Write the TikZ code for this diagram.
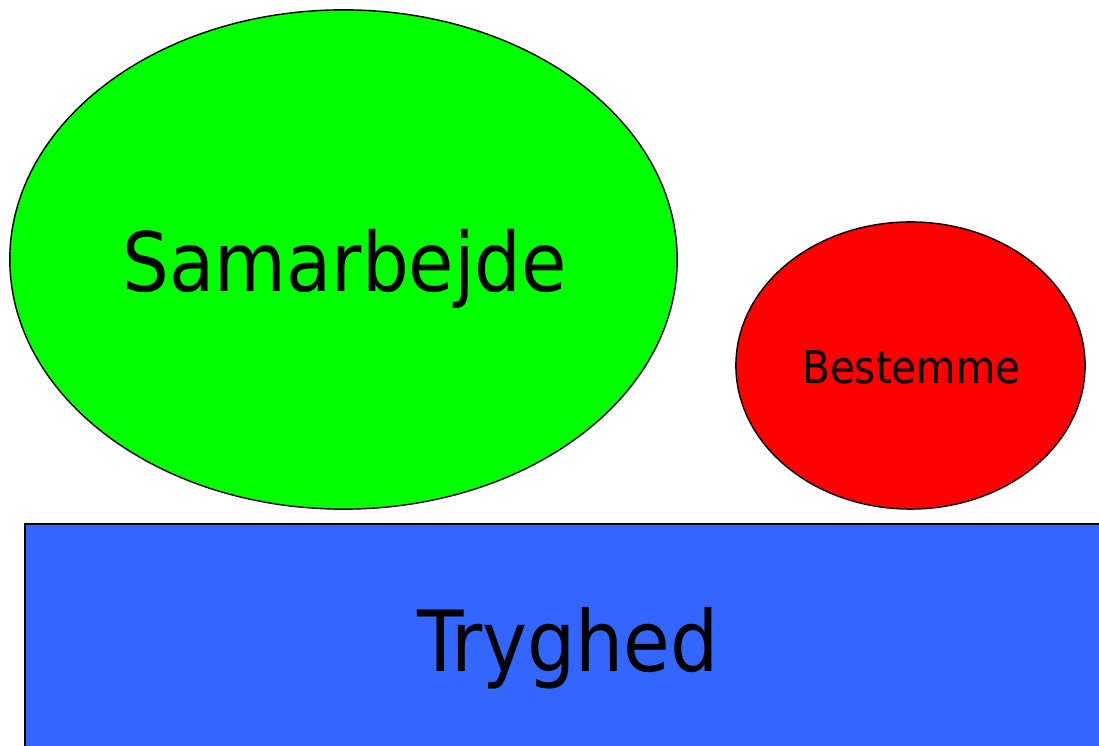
\documentclass[tikz,border=0pt]{standalone}
\usepackage{fontspec}
\setmainfont{DejaVu Sans Condensed}
\usetikzlibrary{shapes.geometric}
\definecolor{groen}{HTML}{00FF00}
\definecolor{roed}{HTML}{FF0000}
\definecolor{blaa}{HTML}{3366FF}
\tikzset{
 blob/.style={ellipse, draw=black, line width=.4pt, inner sep=0},
 label/.style={anchor=base, text=black, inner sep=0}
}
\begin{document}
\begin{tikzpicture}[x=.01cm, y=-.01cm]
\useasboundingbox (0,0) rectangle (1099,746);
\clip (0,0) rectangle (1099,746);
% blokken nederst
\filldraw[fill=blaa, draw=black, line width=.6pt] (25,524) rectangle (1120,770);
\coordinate (T) at (568,672);
\node[label, font=\fontsize{24}{24}\selectfont] (tryghed) at (T) {Tryghed};
% ellipserne
\node[blob, fill=groen, minimum width=6.67cm, minimum height=4.99cm] (samarbejde) at (343.5,259.5) {};
\node[label, font=\fontsize{23.3}{23.3}\selectfont] (samtxt) at (345,292) {Samarbejde};
\node[blob, fill=roed, minimum width=3.49cm, minimum height=2.87cm] (bestemme) at (910.5,365.5) {};
\node[label, font=\fontsize{12.8}{12.8}\selectfont] (besttxt) at (911.5,384) {Bestemme};
\end{tikzpicture}
\end{document}
